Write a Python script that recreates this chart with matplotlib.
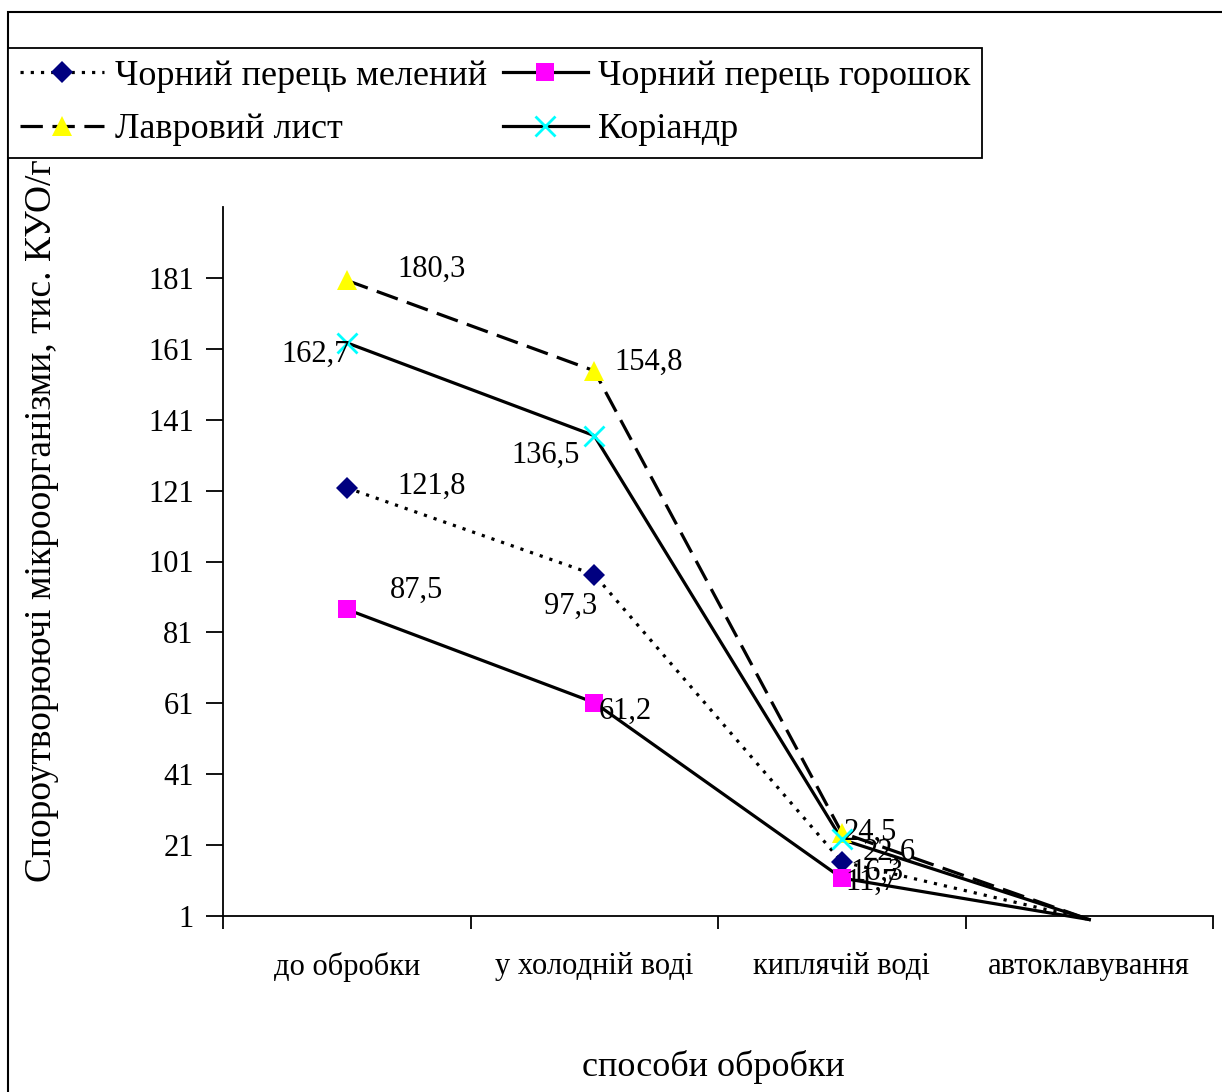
import numpy as np
import matplotlib.pyplot as plt
from matplotlib.patches import Rectangle
from matplotlib.lines import Line2D

plt.rcParams['font.family'] = ['Liberation Serif', 'DejaVu Serif']

methods = ['до обробки', 'у холодній воді', 'киплячій воді', 'автоклавування']
names = ['Чорний перець мелений', 'Чорний перець горошок', 'Лавровий лист', 'Коріандр']
pepper_ground = [121.8, 97.3, 16.3, 0]
pepper_whole = [87.5, 61.2, 11.7, 0]
bay_leaf = [180.3, 154.8, 24.5, 0]
coriander = [162.7, 136.5, 22.6, 0]
yticks = [1, 21, 41, 61, 81, 101, 121, 141, 161, 181]

# style per series: linestyle, marker, marker colour, marker size
styles = [
    ((0, (1, 2.2)), 'D', '#000080', 11),
    ('-', 's', '#ff00ff', 13),
    ((0, (7, 3)), '^', '#ffff00', 14),
    ('-', 'x', '#00ffff', 14),
]
series = [pepper_ground, pepper_whole, bay_leaf, coriander]

# label offsets in pixels (dx, dy, ha) for the first three points
offsets = [
    [(51, 1, 'left'), (3, -32, 'right'), (9, -11, 'left')],
    [(43, 19, 'left'), (4, -9, 'left'), (4, -4, 'left')],
    [(51, 11, 'left'), (20, 8, 'left'), (2, 0, 'left')],
    [(3, -12, 'right'), (-14, -20, 'right'), (21, -13, 'left')],
]

fig = plt.figure(figsize=(12.22, 10.92), dpi=100)
ax = fig.add_axes([223 / 1222, 1 - 916 / 1092, 990 / 1222, 709 / 1092])

x = np.arange(len(methods))
handles = []
for vals, (ls, mk, mc, ms), offs in zip(series, styles, offsets):
    ax.plot(x, vals, color='black', lw=2.3, ls=ls, clip_on=False, zorder=2)
    ax.plot(x[:3], vals[:3], ls='none', marker=mk, color=mc, ms=ms,
            mew=2 if mk == 'x' else 0, clip_on=False, zorder=3)
    handles.append(Line2D([], [], color='black', lw=2.3, ls=ls, marker=mk,
                          mfc=mc, mec=mc, ms=ms, mew=2 if mk == 'x' else 0))
    for xi, v, (dx, dy, ha) in zip(x[:3], vals[:3], offs):
        ax.annotate(('%.1f' % v).replace('.', ','), (xi, v), xytext=(dx, dy),
                    textcoords='offset pixels', ha=ha, va='center', fontsize=22)

ax.set_xlim(-0.5, 3.5)
ax.set_ylim(1, 201)
ax.set_yticks(yticks)
ax.set_xticks(np.arange(-0.5, 4, 1))
ax.set_xticklabels([])
ax.set_xticks(x, minor=True)
ax.set_xticklabels(methods, minor=True)
ax.tick_params(axis='x', which='minor', length=0, pad=26, labelsize=22)
ax.tick_params(axis='x', which='major', direction='out', length=9, width=1.3)
ax.tick_params(axis='y', direction='out', length=12, width=1.3, pad=9, labelsize=22)
for s in ['top', 'right']:
    ax.spines[s].set_visible(False)
for s in ['left', 'bottom']:
    ax.spines[s].set_linewidth(1.3)

fig.text(713 / 1222, 1 - 1067 / 1092, 'способи обробки', ha='center', va='center', fontsize=26)
fig.text(42 / 1222, 1 - 882 / 1092, 'Спороутворюючі мікроорганізми, тис. КУО/г',
         rotation=90, ha='center', va='bottom', fontsize=27)

fig.patches.append(Rectangle((8 / 1222, -0.1), 1.2, 1.1 - 12 / 1092, transform=fig.transFigure,
                             fill=False, ec='black', lw=1.5))

# legend fills column by column, so interleave to get two series per row
order = [0, 2, 1, 3]
leg = fig.legend([handles[i] for i in order], [names[i] for i in order], ncol=2,
                 loc='upper left', bbox_to_anchor=(8 / 1222, 1 - 48 / 1092), fontsize=26,
                 frameon=True, fancybox=False, edgecolor='black', framealpha=1,
                 handlelength=2.35, handletextpad=0.28, columnspacing=0.45,
                 borderpad=0.32, labelspacing=0.56, borderaxespad=0)
leg.get_frame().set_linewidth(1.3)

fig.savefig('out.png', dpi=100)
